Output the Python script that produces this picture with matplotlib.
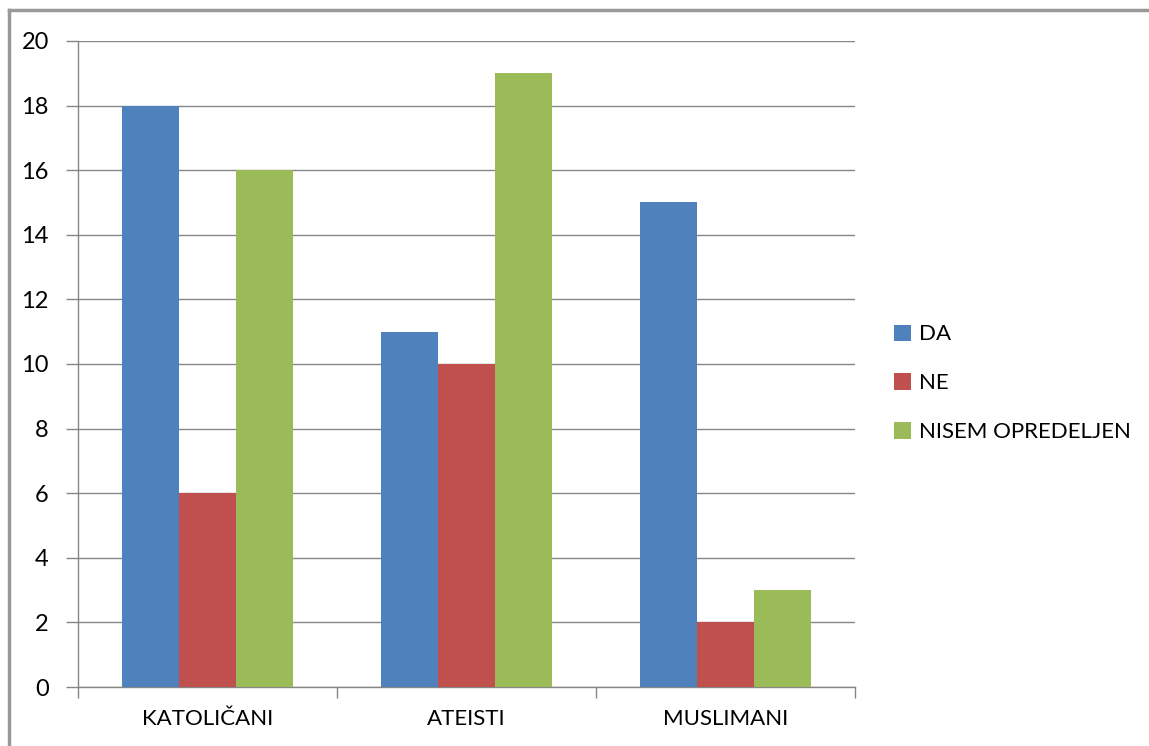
import numpy as np
import matplotlib.pyplot as plt
from matplotlib.lines import Line2D

categories = ["KATOLIČANI", "ATEISTI", "MUSLIMANI"]
series_names = ["DA", "NE", "NISEM OPREDELJEN"]
da = [18, 11, 15]
ne = [6, 10, 2]
nisem = [16, 19, 3]
y_ticks = [0, 2, 4, 6, 8, 10, 12, 14, 16, 18, 20]

colors = ["#4F81BD", "#C0504D", "#9BBB59"]
grid_col = "#868686"

plt.rcParams['font.family'] = ['Lato', 'DejaVu Sans']

fig = plt.figure(figsize=(11.49, 7.46), dpi=100)
ax = fig.add_axes([78 / 1149, 59 / 746, 777 / 1149, 646 / 746])

x = np.arange(len(categories))
w = 0.22
for i, vals in enumerate([da, ne, nisem]):
    ax.bar(x + (i - 1) * w, vals, width=w, color=colors[i], label=series_names[i], zorder=3)

ax.set_xlim(-0.5, 2.5)
ax.set_ylim(0, 20)
ax.set_yticks(y_ticks)
ax.yaxis.grid(True, color=grid_col, linewidth=1, zorder=0)

ax.set_xticks(x)
ax.set_xticklabels(categories)
ax.tick_params(axis='x', length=0, labelsize=16, pad=16, colors='#000000')
ax.set_xticks([-0.5, 0.5, 1.5, 2.5], minor=True)
ax.tick_params(axis='x', which='minor', length=8, color=grid_col, width=1, direction='out')
ax.tick_params(axis='y', length=9, color=grid_col, width=1, labelsize=17, pad=12)

for s in ['top', 'right']:
    ax.spines[s].set_visible(False)
for s in ['left', 'bottom']:
    ax.spines[s].set_color(grid_col)
    ax.spines[s].set_linewidth(1)

ax.legend(loc='center left', bbox_to_anchor=(1.025, 0.47), frameon=False, fontsize=16,
          handlelength=0.75, handleheight=0.75, handletextpad=0.35, labelspacing=1.3)

# outer chart border (top and left visible)
fig.add_artist(Line2D([9 / 1149, 1.0], [1 - 10 / 746, 1 - 10 / 746], color='#999999', linewidth=2.5,
                      transform=fig.transFigure))
fig.add_artist(Line2D([9 / 1149, 9 / 1149], [0, 1 - 10 / 746], color='#999999', linewidth=2.5,
                      transform=fig.transFigure))

fig.savefig("out.png", dpi=100)
